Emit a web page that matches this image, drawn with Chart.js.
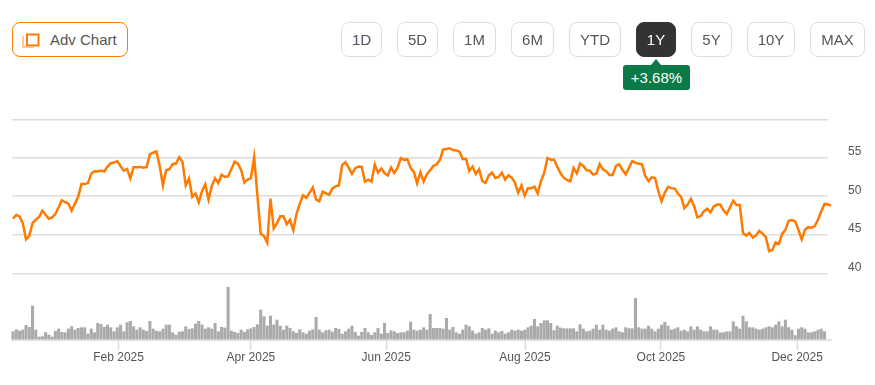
<!DOCTYPE html>
<html>
    <head>
        <title>Adv Chart</title>
        <meta charset="UTF-8">
        <script src="https://cdn.jsdelivr.net/npm/chart.js@4/dist/chart.umd.min.js"></script>
        <style>
            html, body { margin: 0; padding: 0; background: #fff; overflow: hidden; }
            body { width: 875px; height: 385px; position: relative; font-family: "Liberation Sans", Arial, sans-serif; }
            #chartBox { position: absolute; left: 0; top: 0; width: 875px; height: 385px; }
            .btn { position: absolute; top: 22px; height: 34.5px; line-height: 33px; box-sizing: border-box; border: 1px solid #ddd; border-radius: 8px; text-align: center; font-size: 15px; color: #555; background: #fff; }
            .btn.active { background: #333; border-color: #333; color: #fff; }
            #advChart { left: 12px; width: 116px; border-color: #ff7a00; text-align: left; padding-left: 37px; }
            #advChart svg { position: absolute; left: 9px; top: 9px; }
            #change { position: absolute; left: 623px; top: 65px; width: 67px; height: 25px; line-height: 25px; background: #0b7a47; color: #fff; font-size: 15px; text-align: center; border-radius: 3px; }
            #change:before { content: ""; position: absolute; left: 28px; top: -6px; border-left: 5px solid transparent; border-right: 5px solid transparent; border-bottom: 6px solid #0b7a47; }
        </style>
    </head>
    <body>
        <div id="chartBox"><canvas id="priceChart" width="875" height="385"></canvas></div>

        <div class="btn" id="advChart">
            <svg width="18" height="16" viewBox="0 0 18 16">
                <rect x="5" y="2.5" width="11.5" height="11" fill="none" stroke="#ff7a00" stroke-width="2"/>
                <path d="M1 4 V15 H12" fill="none" stroke="#ffb779" stroke-width="1.5"/>
            </svg>
            Adv Chart
        </div>
        <div class="btn" style="left:341px;width:41px">1D</div>
        <div class="btn" style="left:397px;width:41px">5D</div>
        <div class="btn" style="left:453px;width:43px">1M</div>
        <div class="btn" style="left:511px;width:43px">6M</div>
        <div class="btn" style="left:569px;width:52px">YTD</div>
        <div class="btn active" style="left:636px;width:40px">1Y</div>
        <div class="btn" style="left:691px;width:41px">5Y</div>
        <div class="btn" style="left:747px;width:48px">10Y</div>
        <div class="btn" style="left:810px;width:55px">MAX</div>
        <div id="change">+3.68%</div>

        <script>
            // values, one per trading day
            const prices = [
                47.10, 47.58, 47.41, 46.54, 44.46, 44.90, 46.54, 46.97, 47.32, 48.14,
                47.62, 47.10, 47.28, 47.71, 48.58, 49.48, 49.23, 49.05, 48.14, 49.05,
                49.92, 51.56, 51.56, 51.69, 52.90, 53.21, 53.17, 53.29, 53.17, 53.81,
                54.25, 54.33, 54.51, 53.86, 53.29, 53.51, 52.30, 53.73, 53.73, 53.77,
                53.68, 53.77, 55.37, 55.59, 55.76, 53.90, 51.39, 53.34, 53.47, 54.12,
                54.20, 55.03, 54.42, 51.39, 52.30, 49.92, 50.35, 49.23, 50.65, 51.52,
                49.57, 51.30, 52.30, 51.69, 52.77, 52.47, 52.56, 53.47, 54.42, 54.20,
                53.38, 51.74, 52.13, 52.34, 55.03, 50.09, 45.16, 44.90, 44.03, 49.70,
                45.85, 46.54, 47.41, 47.41, 46.41, 46.97, 45.63, 47.75, 49.05, 50.13,
                49.79, 50.44, 51.13, 49.57, 49.36, 50.57, 50.39, 50.18, 51.00, 51.26,
                51.39, 53.99, 54.38, 53.68, 52.86, 53.60, 53.81, 53.77, 51.87, 52.13,
                51.87, 54.07, 53.03, 53.55, 52.95, 52.69, 53.68, 52.99, 53.68, 54.90,
                54.68, 54.77, 53.64, 53.12, 51.65, 53.08, 51.87, 52.82, 53.34, 53.90,
                54.07, 54.68, 56.02, 56.06, 56.15, 55.94, 55.89, 55.72, 54.77, 54.81,
                53.25, 53.81, 52.86, 53.47, 51.95, 51.74, 52.69, 53.03, 52.34, 52.47,
                53.03, 52.13, 52.69, 52.39, 51.74, 50.44, 51.39, 50.09, 51.04, 51.04,
                51.22, 50.35, 51.95, 53.03, 54.90, 54.68, 54.68, 53.81, 52.95, 52.39,
                52.08, 51.91, 53.64, 52.95, 54.20, 53.90, 53.34, 53.29, 52.77, 52.90,
                54.12, 53.47, 53.21, 52.73, 52.73, 53.90, 54.12, 53.38, 52.82, 53.64,
                54.51, 54.33, 54.16, 54.12, 52.60, 51.95, 52.43, 52.34, 50.65, 49.35,
                50.44, 51.22, 51.04, 51.00, 50.35, 49.92, 48.45, 48.92, 49.66, 48.71,
                47.28, 47.45, 48.06, 48.40, 47.93, 48.66, 48.92, 48.92, 48.19, 47.71,
                48.58, 49.44, 48.88, 48.88, 45.24, 44.94, 45.29, 44.68, 44.94, 45.55,
                45.20, 44.72, 42.95, 43.08, 44.07, 43.86, 45.16, 45.68, 46.84, 46.93,
                46.76, 45.68, 44.46, 45.68, 46.02, 45.94, 46.15, 46.97, 48.06, 49.01,
                48.97, 48.79
            ];
            const volumes = [
                2.5, 3.1, 2.7, 3.0, 4.4, 3.8, 10.2, 3.0, 0.9, 1.0,
                2.3, 1.5, 0.9, 2.6, 3.3, 2.3, 2.2, 3.3, 4.0, 3.0,
                3.5, 3.7, 3.7, 1.8, 3.3, 2.2, 5.0, 4.7, 3.8, 4.5,
                3.7, 2.5, 3.7, 4.5, 2.5, 5.2, 5.6, 4.0, 3.0, 3.7,
                3.0, 2.6, 5.6, 3.3, 2.7, 2.5, 3.3, 4.5, 4.5, 2.2,
                1.5, 2.4, 2.5, 4.0, 3.2, 3.4, 4.8, 5.6, 4.5, 3.3,
                3.7, 3.3, 5.0, 2.5, 3.8, 3.6, 15.8, 2.7, 2.3, 2.0,
                3.0, 2.3, 3.1, 3.4, 3.8, 4.6, 9.0, 7.0, 4.2, 7.2,
                4.5, 6.0, 4.2, 3.0, 4.2, 3.5, 2.5, 2.0, 3.1, 2.2,
                1.8, 2.7, 3.1, 6.8, 3.0, 2.2, 2.8, 3.0, 2.4, 3.5,
                3.2, 1.8, 2.5, 3.3, 4.2, 2.3, 1.2, 2.3, 3.5, 2.2,
                1.4, 2.2, 3.5, 1.8, 5.0, 2.0, 2.8, 2.5, 2.0, 2.2,
                2.2, 2.7, 5.4, 3.0, 2.7, 3.0, 3.7, 3.0, 7.7, 3.5,
                3.5, 3.5, 3.3, 6.5, 3.0, 3.8, 2.2, 1.8, 3.0, 4.5,
                4.0, 2.7, 1.8, 2.2, 3.5, 3.0, 3.4, 1.8, 2.7, 2.2,
                2.6, 1.8, 2.2, 3.0, 2.7, 3.0, 2.7, 3.0, 3.7, 4.2,
                6.2, 4.0, 5.0, 5.8, 5.8, 5.0, 2.8, 4.2, 3.6, 3.4,
                3.4, 3.4, 3.4, 2.5, 4.6, 3.3, 2.5, 2.7, 3.3, 4.5,
                3.0, 4.5, 3.0, 2.7, 3.3, 3.7, 2.5, 2.2, 3.7, 3.4,
                3.4, 12.5, 3.7, 3.3, 3.3, 4.2, 3.3, 2.5, 3.3, 4.5,
                5.3, 4.2, 3.0, 3.3, 3.7, 2.7, 3.0, 2.5, 4.0, 3.0,
                4.0, 3.0, 2.5, 2.5, 4.0, 3.0, 3.0, 2.2, 2.2, 2.5,
                2.5, 5.5, 4.0, 3.3, 7.2, 5.5, 3.7, 3.7, 3.3, 3.0,
                3.3, 3.7, 4.0, 3.7, 4.5, 5.5, 4.0, 6.0, 3.7, 3.0,
                1.3, 3.3, 3.7, 3.3, 2.2, 2.2, 2.5, 3.0, 3.3, 2.5,
                null, null
            ];
            const days = prices.map((p, i) => i);
            const tickDays = [32.4, 73.0, 114.5, 157.1, 198.8, 240.6];
            const tickLabels = ['Feb 2025', 'Apr 2025', 'Jun 2025', 'Aug 2025', 'Oct 2025', 'Dec 2025'];
            const priceTicks = [40, 45, 50, 55];
            const priceTop = 59.8;

            const tickFont = { family: '"Liberation Sans", Arial, sans-serif', size: 12 };

            // baseline under the volume bars runs a little past the grid
            const baseline = {
                id: 'baseline',
                afterDatasetsDraw(chart) {
                    const y = chart.scales.yVolume.getPixelForValue(0);
                    const ctx = chart.ctx;
                    ctx.save();
                    ctx.strokeStyle = '#dddddd';
                    ctx.lineWidth = 1.5;
                    ctx.beginPath();
                    ctx.moveTo(chart.chartArea.left, y);
                    ctx.lineTo(832, y);
                    ctx.stroke();
                    ctx.restore();
                }
            };

            new Chart(document.getElementById('priceChart').getContext('2d'), {
                data: {
                    labels: days,
                    datasets: [
                        {
                            type: 'line',
                            data: prices.map((p, i) => ({ x: days[i], y: p })),
                            yAxisID: 'yPrice',
                            borderColor: '#ff7a00',
                            borderWidth: 2.5,
                            pointRadius: 0,
                            tension: 0,
                            clip: false
                        },
                        {
                            type: 'bar',
                            data: volumes.map((v, i) => ({ x: days[i], y: v })),
                            yAxisID: 'yVolume',
                            backgroundColor: '#aaaaaa',
                            barThickness: 2.4,
                            clip: false
                        }
                    ]
                },
                options: {
                    responsive: false,
                    animation: false,
                    layout: { padding: { left: 12, top: 120, right: 0, bottom: 0 } },
                    plugins: { legend: { display: false }, tooltip: { enabled: false } },
                    scales: {
                        x: {
                            type: 'linear',
                            offset: false,
                            min: -0.307,
                            max: 250.07,
                            afterBuildTicks: axis => { axis.ticks = tickDays.map(v => ({ value: v })); },
                            afterFit: axis => { axis.height = 45; },
                            border: { display: false },
                            grid: { offset: false, drawOnChartArea: false, tickLength: 10, tickColor: '#dddddd', tickWidth: 1.5 },
                            ticks: {
                                autoSkip: false,
                                maxRotation: 0,
                                padding: 0,
                                color: '#555555',
                                font: tickFont,
                                callback: value => tickLabels[tickDays.indexOf(value)]
                            }
                        },
                        yPrice: {
                            position: 'right',
                            stack: 'panes',
                            stackWeight: 154,
                            min: priceTicks[0],
                            max: priceTop,
                            afterBuildTicks: axis => { axis.ticks = priceTicks.concat(priceTop).map(v => ({ value: v })); },
                            afterFit: axis => { axis.width = 47; },
                            border: { display: false },
                            grid: { color: '#dddddd', lineWidth: 1.5, drawTicks: false },
                            ticks: {
                                padding: 20,
                                labelOffset: -6,
                                color: '#555555',
                                font: tickFont,
                                callback: value => priceTicks.includes(value) ? value : ''
                            }
                        },
                        yVolume: {
                            position: 'right',
                            stack: 'panes',
                            stackWeight: 66,
                            min: 0,
                            max: 19.8,
                            afterFit: axis => { axis.width = 47; },
                            border: { display: false },
                            grid: { display: false },
                            ticks: { display: false }
                        }
                    }
                },
                plugins: [baseline]
            });
        </script>
    </body>
</html>
